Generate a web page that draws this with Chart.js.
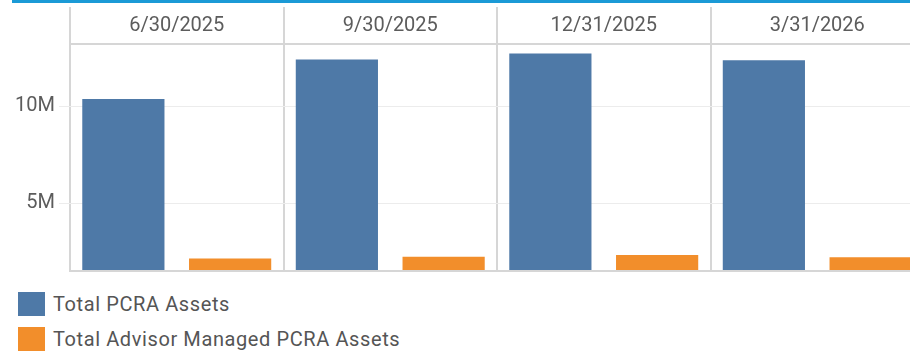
<!DOCTYPE html>
<html>
<head>
<meta charset="utf-8">
<script src="https://cdn.jsdelivr.net/npm/chart.js@4/dist/chart.umd.min.js"></script>
<style>
  html, body { margin: 0; padding: 0; background: #fff; }
  body { width: 910px; height: 354px; overflow: hidden; position: relative; font-family: Roboto, sans-serif; }
  #topbar { position: absolute; left: 12px; top: 0; width: 898px; height: 3px; background: #1b9ad6; }
  #wrap { position: absolute; left: 0; top: 0; width: 930px; height: 287px; }
  #legend { position: absolute; left: 18px; top: 292px; }
  .item { display: flex; align-items: center; height: 24px; margin-bottom: 11px; }
  .swatch { width: 27px; height: 24px; margin-right: 8px; }
  .label { font-size: 20px; color: #555; white-space: nowrap; letter-spacing: 0.6px; }
</style>
</head>
<body>
<div id="topbar"></div>
<div id="wrap"><canvas id="c" width="930" height="287"></canvas></div>
<div id="legend"></div>
<script>
// Quarter-end dates shown as column headers
const quarters = ['6/30/2025', '9/30/2025', '12/31/2025', '3/31/2026'];
// Asset totals (USD)
const totalPcraAssets = [10380000, 12420000, 12730000, 12380000];
const advisorManagedAssets = [2140000, 2240000, 2330000, 2210000];
// Value axis ticks
const yTicks = [5000000, 10000000];

const seriesNames = ['Total PCRA Assets', 'Total Advisor Managed PCRA Assets'];
const seriesColors = ['#4e79a7', '#f28e2b'];

const lineGrey = '#d6d6d6';
const textGrey = '#5c5c5c';

// Baseline under the bars
const baselinePlugin = {
  id: 'baseline',
  afterDatasetsDraw(chart) {
    const { ctx, chartArea } = chart;
    ctx.save();
    ctx.strokeStyle = lineGrey;
    ctx.lineWidth = 2;
    ctx.beginPath();
    ctx.moveTo(chartArea.left - 1, chartArea.bottom);
    ctx.lineTo(chartArea.right, chartArea.bottom);
    ctx.stroke();
    ctx.restore();
  }
};

const chart = new Chart(document.getElementById('c'), {
  type: 'bar',
  data: {
    labels: quarters,
    datasets: [
      { label: seriesNames[0], data: totalPcraAssets, backgroundColor: seriesColors[0] },
      { label: seriesNames[1], data: advisorManagedAssets, backgroundColor: seriesColors[1] }
    ]
  },
  options: {
    responsive: false,
    animation: false,
    layout: { padding: { top: 7, bottom: 9.5, left: 0, right: 6 } },
    datasets: { bar: { categoryPercentage: 1, barPercentage: 0.77 } },
    plugins: { legend: { display: false }, tooltip: { enabled: false } },
    scales: {
      x: {
        position: 'top',
        afterFit(scale) { scale.height = 36.5; },
        grid: {
          offset: true,
          color: lineGrey,
          lineWidth: 2,
          drawTicks: true,
          tickLength: 36.5,
          tickColor: lineGrey
        },
        border: { display: true, color: lineGrey, width: 2 },
        ticks: {
          color: textGrey,
          font: { family: 'Roboto', size: 20 },
          padding: -31,
          maxRotation: 0
        }
      },
      y: {
        min: 1500000,
        max: 13250000,
        afterFit(scale) { scale.width = 70; },
        afterBuildTicks(scale) { scale.ticks = yTicks.map(v => ({ value: v })); },
        grid: { color: '#ececec', lineWidth: 1, tickLength: 11, tickColor: '#ececec' },
        border: { display: false },
        ticks: {
          color: textGrey,
          font: { family: 'Roboto', size: 20 },
          padding: 4,
          callback: v => (v / 1000000) + 'M'
        }
      }
    }
  },
  plugins: [baselinePlugin]
});

// Legend built from the chart's datasets
const legend = document.getElementById('legend');
chart.data.datasets.forEach(ds => {
  const item = document.createElement('div');
  item.className = 'item';
  const sw = document.createElement('div');
  sw.className = 'swatch';
  sw.style.background = ds.backgroundColor;
  const lb = document.createElement('div');
  lb.className = 'label';
  lb.textContent = ds.label;
  item.appendChild(sw);
  item.appendChild(lb);
  legend.appendChild(item);
});
</script>
</body>
</html>
